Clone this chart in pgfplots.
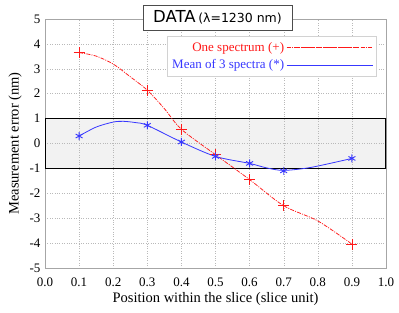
\documentclass[border=0pt]{standalone}
\usepackage{fontspec}
\setmainfont{Liberation Serif}
\newfontfamily\dejavu{DejaVu Sans}
\usepackage{pgfplots}
\pgfplotsset{compat=1.18}
\usetikzlibrary{calc}
\definecolor{myred}{rgb}{1,0.1,0.1}
\definecolor{myblue}{rgb}{0.22,0.22,1}
\tikzset{redline/.style={draw=myred, color=myred, line width=0.75pt, dash pattern=on 4pt off 1.2pt on 1pt off 1.2pt},
         blueline/.style={draw=myblue, color=myblue, line width=0.8pt, solid}}
\begin{document}
\begin{tikzpicture}
\begin{axis}[name=ax, set layers, scale only axis, width=341pt, height=249pt,
  xmin=0, xmax=1, ymin=-5, ymax=5,
  xtick={0,0.1,0.2,0.3,0.4,0.5,0.6,0.7,0.8,0.9,1},
  xticklabels={\textrm{0.0},\textrm{0.1},\textrm{0.2},\textrm{0.3},\textrm{0.4},\textrm{0.5},\textrm{0.6},\textrm{0.7},\textrm{0.8},\textrm{0.9},\textrm{1.0}},
  ytick={-5,-4,-3,-2,-1,0,1,2,3,4,5},
  yticklabels={\textrm{-5},\textrm{-4},\textrm{-3},\textrm{-2},\textrm{-1},\textrm{0},\textrm{1},\textrm{2},\textrm{3},\textrm{4},\textrm{5}},
  grid=major, grid style={gray!55, dotted},
  major tick length=0pt,
  axis line style={gray!70},
  tick label style={font=\fontsize{13}{15}\selectfont\rmfamily},
  xticklabel style={yshift=-6pt},
  yticklabel style={xshift=-1pt},
  label style={font=\fontsize{14.5}{16}\selectfont},
  xlabel={Position within the slice (slice unit)},
  ylabel={Measurement error (nm)},
  xlabel style={yshift=1pt},
  ylabel style={yshift=1pt},
  legend style={at={(0.971,0.932)}, anchor=north east, draw=gray!35,
    font=\fontsize{13}{15}\selectfont, row sep=3pt, inner xsep=3pt, inner ysep=4pt},
  legend cell align=right,
  legend plot pos=right,
]
\addplot[on layer=axis background, fill=black!5, draw=none, forget plot]
  coordinates {(0,-1) (1,-1) (1,1) (0,1)} -- cycle;
\addplot[draw=black, line width=1.1pt, forget plot]
  coordinates {(0,-1) (1,-1) (1,1) (0,1)} -- cycle;
% curves
\addplot[redline, smooth, tension=0.5, no markers,
  legend image code/.code={\draw[redline] (9pt,0pt) -- (72pt,0pt); \path (0pt,0pt) -- (86pt,0pt);}]
  coordinates {(0.1,3.65) (0.15,3.51) (0.2,3.19) (0.25,2.68) (0.3,2.14) (0.35,1.4) (0.4,0.57) (0.5,-0.45) (0.6,-1.45) (0.7,-2.5) (0.8,-3.11) (0.9,-4.04)};
\addlegendentry[text=myred]{One spectrum (+)}
\addplot[blueline, smooth, tension=0.5, no markers,
  legend image code/.code={\draw[blueline] (9pt,0pt) -- (72pt,0pt); \path (0pt,0pt) -- (86pt,0pt);}]
  coordinates {(0.1,0.3) (0.15,0.66) (0.2,0.86) (0.23,0.89) (0.265,0.84) (0.3,0.73) (0.4,0.06) (0.5,-0.52) (0.6,-0.8) (0.65,-0.98) (0.7,-1.08) (0.78,-0.96) (0.9,-0.6)};
\addlegendentry[text=myblue]{Mean of 3 spectra (*)}
% sample marks
\addplot[forget plot, only marks, mark=+, mark size=5.5pt, mark options={draw=myred, color=myred, solid, line width=0.8pt}]
  coordinates {(0.1,3.65) (0.3,2.14) (0.4,0.57) (0.5,-0.45) (0.6,-1.45) (0.7,-2.5) (0.9,-4.04)};
\addplot[forget plot, only marks, mark=asterisk, mark size=4pt, mark options={draw=myblue, color=myblue, solid, line width=0.9pt}]
  coordinates {(0.1,0.3) (0.3,0.73) (0.4,0.06) (0.5,-0.52) (0.6,-0.8) (0.7,-1.1) (0.9,-0.6)};
\end{axis}
\node[draw=gray!60!black, fill=white, minimum width=149pt, minimum height=25pt, inner sep=0pt]
  at ($(ax.north)+(2pt,1.5pt)$) {{\dejavu\fontsize{16.5}{18}\selectfont DATA} {\dejavu\fontsize{12.5}{14}\selectfont(λ=1230 nm)}};
\pgfresetboundingbox
\path[use as bounding box] ($(ax.south west)+(-45pt,-45pt)$) rectangle ($(ax.north east)+(13pt,19pt)$);
\end{tikzpicture}
\end{document}
